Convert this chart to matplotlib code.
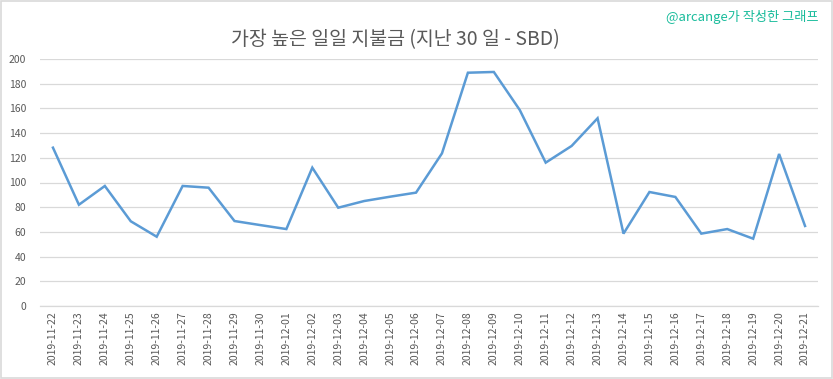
import matplotlib
matplotlib.use("Agg")
import matplotlib.pyplot as plt
from matplotlib.patches import Rectangle

plt.rcParams['font.family'] = ['Noto Sans CJK KR', 'DejaVu Sans']

dates = ["2019-11-22", "2019-11-23", "2019-11-24", "2019-11-25", "2019-11-26",
         "2019-11-27", "2019-11-28", "2019-11-29", "2019-11-30", "2019-12-01",
         "2019-12-02", "2019-12-03", "2019-12-04", "2019-12-05", "2019-12-06",
         "2019-12-07", "2019-12-08", "2019-12-09", "2019-12-10", "2019-12-11",
         "2019-12-12", "2019-12-13", "2019-12-14", "2019-12-15", "2019-12-16",
         "2019-12-17", "2019-12-18", "2019-12-19", "2019-12-20", "2019-12-21"]
payouts = [128.2, 82.0, 97.2, 68.6, 56.1, 97.2, 95.8, 68.8, 65.5, 62.3,
           112.0, 79.6, 85.0, 88.5, 91.8, 123.6, 188.9, 189.5, 158.7, 116.1,
           129.6, 152.0, 58.6, 92.3, 88.3, 58.6, 62.3, 54.5, 123.1, 64.8]
yticks = list(range(0, 201, 20))

title = "가장 높은 일일 지불금 (지난 30 일 - SBD)"
credit = "@arcange가 작성한 그래프"

fig = plt.figure(figsize=(8.33, 3.79), dpi=100)
ax = fig.add_axes([40/833, 1-306/379, 778/833, 247/379])

x = list(range(len(dates)))
ax.plot(x, payouts, color="#5b9bd5", linewidth=1.8, solid_joinstyle="miter")
ax.set_xlim(-0.5, len(dates) - 0.5)
ax.set_ylim(0, 200)
ax.set_yticks(yticks)
ax.set_xticks(x)
ax.set_xticklabels(dates, rotation=90, fontsize=7.5, color="#595959")
ax.tick_params(axis='y', labelsize=7.5, labelcolor="#595959", length=0, pad=10)
ax.tick_params(axis='x', length=0, pad=4)
ax.grid(axis='y', color="#d9d9d9", linewidth=0.9)
ax.set_axisbelow(True)
for s in ["top", "right", "left"]:
    ax.spines[s].set_visible(False)
ax.spines["bottom"].set_color("#d9d9d9")
ax.spines["bottom"].set_linewidth(0.9)

fig.text(395/833, 1-40/379, title, ha="center", va="center", fontsize=14,
         color="#595959", fontweight="light")
fig.text(818/833, 1-17/379, credit, ha="right", va="center", fontsize=9.5, color="#1abc9c")

fig.patches.append(Rectangle((0.0015, 0.003), 0.997, 0.994, transform=fig.transFigure,
                             fill=False, edgecolor="#d9d9d9", linewidth=1.2))

fig.savefig("out.png", dpi=100)
